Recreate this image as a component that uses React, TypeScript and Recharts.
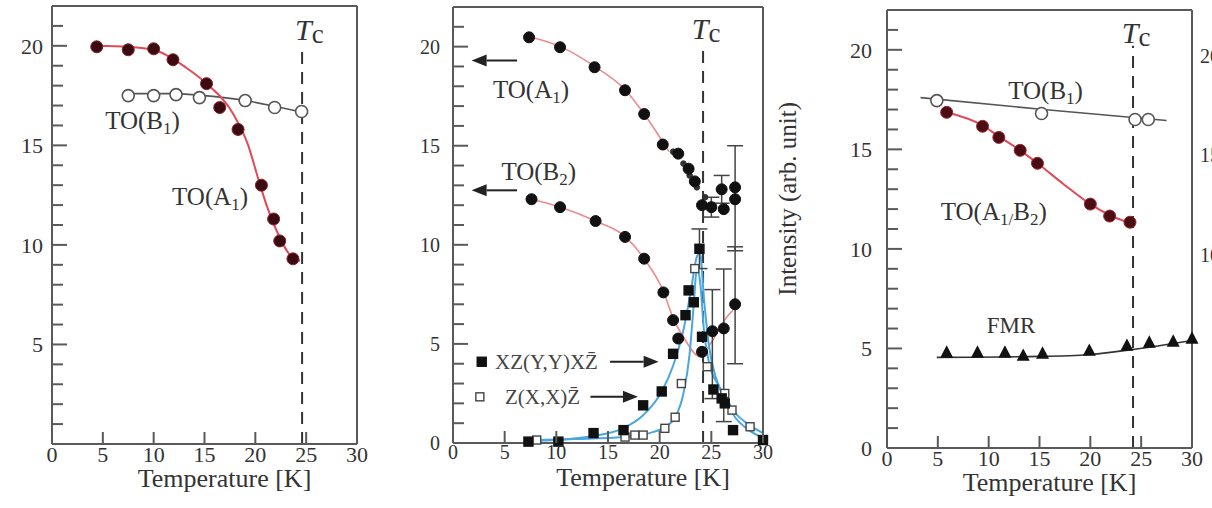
import React from 'react';
import {
  ComposedChart,
  Line,
  Scatter,
  XAxis,
  YAxis,
  ReferenceLine,
  ReferenceDot,
  ErrorBar,
} from 'recharts';

const SERIF = '"Liberation Serif", "Times New Roman", serif';
const INK = '#333';
const FRAME = '#5a5a5a';
const RED = '#e04a58';
const PINK = '#ec8a8e';
const BLUE = '#4aa7de';

// axis ticks shared by all three panels
const X_TICKS = [0, 5, 10, 15, 20, 25, 30];
const TOP_TICKS = [5, 10, 15, 20, 25];
const Y_TICKS = [0, 1, 2, 3, 4, 5, 6, 7, 8, 9, 10, 11, 12, 13, 14, 15, 16, 17, 18, 19, 20, 21];
const Y_LABELS_P1 = [5, 10, 15, 20];
const Y_LABELS = [0, 5, 10, 15, 20];
const Y_LABELS_RIGHT_P3 = [10, 15, 20];

// --- left panel: TO(A1) / TO(B1) frequencies ---
const p1A1 = [
  { x: 4.4, y: 19.95 }, { x: 7.5, y: 19.8 }, { x: 10.0, y: 19.85 }, { x: 11.9, y: 19.3 },
  { x: 15.2, y: 18.1 }, { x: 16.5, y: 16.9 }, { x: 18.3, y: 15.8 }, { x: 20.6, y: 13.0 },
  { x: 21.8, y: 11.3 }, { x: 22.4, y: 10.2 }, { x: 23.7, y: 9.3 },
];
const p1A1Fit = [
  { x: 4.4, y: 20.0 }, { x: 7.5, y: 19.95 }, { x: 10, y: 19.8 }, { x: 13.2, y: 18.9 },
  { x: 15.2, y: 18.1 }, { x: 17.8, y: 16.6 }, { x: 19.3, y: 15.0 }, { x: 20.3, y: 13.3 },
  { x: 21.1, y: 12.0 }, { x: 22.1, y: 10.7 }, { x: 23.4, y: 9.5 }, { x: 24.4, y: 9.2 },
];
const p1B1 = [
  { x: 7.5, y: 17.5 }, { x: 10.0, y: 17.5 }, { x: 12.2, y: 17.55 }, { x: 14.5, y: 17.4 },
  { x: 19.0, y: 17.25 }, { x: 21.9, y: 16.9 }, { x: 24.55, y: 16.7 },
];
const p1B1Fit = [
  { x: 7.5, y: 17.6 }, { x: 12, y: 17.6 }, { x: 15, y: 17.5 }, { x: 19, y: 17.25 },
  { x: 22, y: 16.95 }, { x: 25.2, y: 16.6 },
];
const P1_TC = 24.6;

// --- middle panel: frequencies and Raman intensities ---
const p2A1 = [
  { x: 7.36, y: 20.47 }, { x: 10.36, y: 19.97 }, { x: 13.7, y: 18.96 }, { x: 16.65, y: 17.8 },
  { x: 18.5, y: 16.6 }, { x: 20.3, y: 15.06 }, { x: 21.8, y: 14.6 }, { x: 22.8, y: 13.84 },
  { x: 23.4, y: 13.2 }, { x: 24.1, y: 12.0 }, { x: 26.2, y: 11.8 }, { x: 27.3, y: 12.9 },
];
const p2A1Err = [
  { x: 25.0, y: 11.9, e: 0.5 },
  { x: 26.0, y: 12.8, e: 0.7 },
  { x: 27.3, y: 12.3, e: [2.6, 2.7] },
];
const p2A1Small = [
  { x: 21.3, y: 14.7 }, { x: 22.3, y: 14.1 }, { x: 22.9, y: 13.5 }, { x: 23.6, y: 12.9 }, { x: 24.4, y: 12.4 },
];
const p2A1Fit = [
  { x: 7.4, y: 20.5 }, { x: 10.4, y: 20.0 }, { x: 13.7, y: 19.0 }, { x: 16.7, y: 17.8 },
  { x: 18.5, y: 16.6 }, { x: 20.9, y: 14.7 },
];
const p2B2 = [
  { x: 7.6, y: 12.3 }, { x: 10.36, y: 11.9 }, { x: 13.8, y: 11.2 }, { x: 16.65, y: 10.4 },
  { x: 18.5, y: 9.3 }, { x: 20.36, y: 7.6 }, { x: 21.3, y: 6.2 }, { x: 21.8, y: 5.27 },
  { x: 24.1, y: 4.6 },
];
const p2B2Err = [
  { x: 25.1, y: 5.64, e: [3.4, 2.1] },
  { x: 26.2, y: 5.78, e: [4.7, 3.0] },
  { x: 27.3, y: 7.0, e: [3.0, 2.9] },
];
const p2B2Fit = [
  { x: 7.6, y: 12.3 }, { x: 10.4, y: 11.9 }, { x: 13.8, y: 11.2 }, { x: 16.7, y: 10.4 },
  { x: 18.5, y: 9.3 }, { x: 20.4, y: 7.6 }, { x: 21.3, y: 6.3 }, { x: 22.3, y: 5.35 },
  { x: 23.9, y: 4.35 }, { x: 24.9, y: 5.0 }, { x: 26.5, y: 6.36 }, { x: 27.1, y: 6.7 },
];
const p2XZ = [
  { x: 7.3, y: 0.07 }, { x: 10.2, y: 0.07 }, { x: 13.6, y: 0.5 }, { x: 16.5, y: 0.65 },
  { x: 18.4, y: 1.9 }, { x: 20.2, y: 2.6 }, { x: 21.3, y: 4.5 }, { x: 22.5, y: 6.45 },
  { x: 22.8, y: 7.7 }, { x: 23.3, y: 7.1 }, { x: 24.1, y: 5.36 }, { x: 25.2, y: 2.7 },
  { x: 26.0, y: 2.25 }, { x: 26.3, y: 2.0 }, { x: 27.1, y: 0.65 }, { x: 30.0, y: 0.15 },
];
const p2XZErr = [{ x: 23.85, y: 9.8, e: 1.0 }];
const p2XZFit = [
  { x: 7.3, y: 0.1 }, { x: 10, y: 0.15 }, { x: 13.6, y: 0.35 }, { x: 16.5, y: 0.75 },
  { x: 18.4, y: 1.4 }, { x: 20.2, y: 2.6 }, { x: 21.3, y: 3.9 }, { x: 22.3, y: 5.7 },
  { x: 23.0, y: 7.6 }, { x: 23.6, y: 9.4 }, { x: 23.9, y: 9.6 }, { x: 24.3, y: 7.2 },
  { x: 24.8, y: 4.8 }, { x: 25.5, y: 3.2 }, { x: 26.3, y: 2.2 }, { x: 27.3, y: 1.3 },
  { x: 28.5, y: 0.7 }, { x: 30, y: 0.25 },
];
const p2ZXX = [
  { x: 8.1, y: 0.15 }, { x: 16.65, y: 0.3 }, { x: 17.6, y: 0.4 }, { x: 18.4, y: 0.4 },
  { x: 20.5, y: 0.74 }, { x: 21.5, y: 1.3 }, { x: 22.1, y: 3.0 }, { x: 23.4, y: 8.8 },
  { x: 24.6, y: 3.85 }, { x: 26.3, y: 2.5 }, { x: 27.0, y: 1.66 }, { x: 28.75, y: 0.82 },
];
const p2ZXXFit = [
  { x: 8.1, y: 0.15 }, { x: 12, y: 0.2 }, { x: 16.5, y: 0.3 }, { x: 19, y: 0.5 },
  { x: 20.5, y: 0.8 }, { x: 21.5, y: 1.3 }, { x: 22.3, y: 2.5 }, { x: 22.9, y: 4.5 },
  { x: 23.3, y: 7.0 }, { x: 23.6, y: 8.8 }, { x: 23.9, y: 8.2 }, { x: 24.3, y: 5.6 },
  { x: 24.8, y: 4.0 }, { x: 25.6, y: 3.0 }, { x: 26.4, y: 2.3 }, { x: 27.2, y: 1.6 },
  { x: 28.7, y: 0.9 }, { x: 30, y: 0.5 },
];
const P2_TC = 24.2;
const p2Arrows = [
  [{ x: 6.2, y: 19.3 }, { x: 1.8, y: 19.3 }],
  [{ x: 6.2, y: 12.75 }, { x: 1.8, y: 12.75 }],
  [{ x: 15.2, y: 4.1 }, { x: 19.9, y: 4.1 }],
  [{ x: 13.3, y: 2.33 }, { x: 17.9, y: 2.33 }],
];

// --- right panel: TO(B1), TO(A1/B2) and FMR ---
const p3B1 = [{ x: 4.9, y: 17.45 }, { x: 15.2, y: 16.8 }, { x: 24.4, y: 16.5 }, { x: 25.7, y: 16.5 }];
const p3B1Fit = [{ x: 3.3, y: 17.6 }, { x: 15.4, y: 17.0 }, { x: 27.5, y: 16.45 }];
const p3A = [
  { x: 5.87, y: 16.86 }, { x: 9.4, y: 16.16 }, { x: 11.0, y: 15.6 }, { x: 13.1, y: 14.95 },
  { x: 14.8, y: 14.3 }, { x: 20.0, y: 12.25 }, { x: 21.9, y: 11.65 }, { x: 23.9, y: 11.34 },
];
const p3AFit = [
  { x: 5.87, y: 16.86 }, { x: 9.4, y: 16.2 }, { x: 11.0, y: 15.65 }, { x: 13.1, y: 14.95 },
  { x: 14.8, y: 14.3 }, { x: 17.5, y: 13.2 }, { x: 20.0, y: 12.25 }, { x: 21.9, y: 11.7 },
  { x: 23.9, y: 11.3 },
];
const p3FMR = [
  { x: 5.87, y: 4.8 }, { x: 8.9, y: 4.8 }, { x: 11.6, y: 4.8 }, { x: 13.4, y: 4.64 },
  { x: 15.3, y: 4.75 }, { x: 19.9, y: 4.89 }, { x: 23.6, y: 5.14 }, { x: 25.8, y: 5.3 },
  { x: 28.15, y: 5.35 }, { x: 30, y: 5.5 },
];
const p3FMRFit = [{ x: 4.9, y: 4.55 }, { x: 15, y: 4.6 }, { x: 20, y: 4.7 }, { x: 24.2, y: 4.95 }, { x: 30, y: 5.4 }];
const P3_TC = 24.2;

type Part = { t: string; s?: number; d?: number; italic?: boolean };
const SUB = { s: 0.68, d: 0.2 };
const TC: Part[] = [{ t: 'T', italic: true }, { t: 'c', s: 0.9, d: 0.12 }];
const LBL_A1: Part[] = [{ t: 'TO(A' }, { t: '1', ...SUB }, { t: ')' }];
const LBL_B1: Part[] = [{ t: 'TO(B' }, { t: '1', ...SUB }, { t: ')' }];
const LBL_B2: Part[] = [{ t: 'TO(B' }, { t: '2', ...SUB }, { t: ')' }];
const LBL_A1B2: Part[] = [{ t: 'TO(A' }, { t: '1/', ...SUB }, { t: 'B' }, { t: '2', ...SUB }, { t: ')' }];
const LBL_FMR: Part[] = [{ t: 'FMR' }];
const LBL_XZ: Part[] = [{ t: 'XZ(Y,Y)XZ\u0304' }];
const LBL_ZX: Part[] = [{ t: 'Z(X,X)Z\u0304' }];

// text with subscript runs, placed at a data point
const rich = (parts: Part[], size: number, anchor: 'start' | 'middle' | 'end' = 'middle', fill = INK) =>
  (p: any) => {
    let shift = 0;
    return (
      <text x={p.cx} y={p.cy} fontSize={size} fontFamily={SERIF} fill={fill} textAnchor={anchor}>
        {parts.map((s, i) => {
          const want = (s.d ?? 0) * size;
          const dy = want - shift;
          shift = want;
          return (
            <tspan key={i} dy={dy} fontSize={(s.s ?? 1) * size} fontStyle={s.italic ? 'italic' : undefined}>
              {s.t}
            </tspan>
          );
        })}
      </text>
    );
  };

// right-hand scale labels of the last panel, running off the edge
const edgeLabel = (v: number) => (p: any) => (
  <text x={p.cx + 8} y={p.cy + 6} dy="0.35em" fontSize={20} fontFamily={SERIF} fill={INK}>
    {v}
  </text>
);

const dot = (r: number, fill: string, stroke = fill) => (p: any) => (
  <circle cx={p.cx} cy={p.cy} r={r} fill={fill} stroke={stroke} strokeWidth={1} />
);
const ring = (r: number) => (p: any) => (
  <circle cx={p.cx} cy={p.cy} r={r} fill="#fff" stroke="#555" strokeWidth={1.6} />
);
const square = (s: number, filled: boolean) => (p: any) => (
  <rect x={p.cx - s / 2} y={p.cy - s / 2} width={s} height={s}
    fill={filled ? '#111' : '#fff'} stroke={filled ? '#111' : '#444'} strokeWidth={1.4} />
);
const triangle = (s: number) => (p: any) => (
  <polygon
    points={`${p.cx},${p.cy - s * 0.55} ${p.cx - s / 2},${p.cy + s * 0.4} ${p.cx + s / 2},${p.cy + s * 0.4}`}
    fill="#111"
  />
);

const arrow = (p: any) => {
  const { x1, y1, x2, y2 } = p;
  const a = Math.atan2(y2 - y1, x2 - x1);
  const bx = x2 - 15 * Math.cos(a);
  const by = y2 - 15 * Math.sin(a);
  const nx = -Math.sin(a) * 6;
  const ny = Math.cos(a) * 6;
  return (
    <g>
      <line x1={x1} y1={y1} x2={bx} y2={by} stroke="#222" strokeWidth={2} />
      <polygon points={`${x2},${y2} ${bx + nx},${by + ny} ${bx - nx},${by - ny}`} fill="#222" />
    </g>
  );
};

const bottomTick = (size: number) => (p: any) => (
  <g>
    <line x1={p.x} y1={p.y} x2={p.x} y2={p.y - 12} stroke={FRAME} strokeWidth={2} />
    <text x={p.x} y={p.y + 2} dy="0.71em" textAnchor="middle" fontSize={size} fontFamily={SERIF} fill={INK}>
      {p.payload.value}
    </text>
  </g>
);
const topTick = (p: any) => (
  <line x1={p.x} y1={p.y} x2={p.x} y2={p.y + 12} stroke={FRAME} strokeWidth={2} />
);
const leftTick = (labels: number[], size: number, gap: number) => (p: any) => {
  const v = p.payload.value;
  const len = v % 5 === 0 ? 15 : 11;
  return (
    <g>
      <line x1={p.x} y1={p.y} x2={p.x + len} y2={p.y} stroke={FRAME} strokeWidth={2} />
      {labels.includes(v) && (
        <text x={p.x - gap} y={p.y} dy="0.35em" textAnchor="end" fontSize={size} fontFamily={SERIF} fill={INK}>
          {v}
        </text>
      )}
    </g>
  );
};
const rightTick = (p: any) => {
  const len = p.payload.value % 5 === 0 ? 14 : 11;
  return <line x1={p.x} y1={p.y} x2={p.x - len} y2={p.y} stroke={FRAME} strokeWidth={2} />;
};

const axisLine = { stroke: FRAME, strokeWidth: 2 };

const xTitle = (dx: number) => (p: any) => {
  const vb = p.viewBox ?? p;
  return (
    <text x={vb.x + vb.width / 2 + dx} y={vb.y + vb.height + 24} dy="0.71em" textAnchor="middle"
      fontSize={26} fontFamily={SERIF} fill={INK}>
      Temperature [K]
    </text>
  );
};

const intensityTitle = (p: any) => {
  const vb = p.viewBox ?? p;
  const cx = vb.x + 24;
  const cy = vb.y + vb.height * 0.44;
  return (
    <text x={cx} y={cy} transform={`rotate(-90 ${cx} ${cy})`} textAnchor="middle" dy="0.35em"
      fontSize={25} fontFamily={SERIF} fill={INK}>
      Intensity (arb. unit)
    </text>
  );
};

// the four sides of a panel; every axis is 1px thick so the margins carry the layout
const frameAxes = (tickSize: number, yLabels: number[], yGap: number, titleDx: number, rightTitle?: boolean) => (
  <>
    <XAxis dataKey="x" type="number" domain={[0, 30]} ticks={X_TICKS} interval={0} height={1}
      tickSize={0} tickMargin={0} tickLine={false} axisLine={axisLine} tick={bottomTick(tickSize)}
      label={xTitle(titleDx)} />
    <XAxis xAxisId="top" orientation="top" type="number" domain={[0, 30]} ticks={TOP_TICKS} interval={0}
      height={1} tickSize={0} tickMargin={0} tickLine={false} axisLine={axisLine} tick={topTick} />
    <YAxis dataKey="y" type="number" domain={[0, 22]} ticks={Y_TICKS} interval={0} width={1}
      tickSize={0} tickMargin={0} tickLine={false} axisLine={axisLine} tick={leftTick(yLabels, tickSize, yGap)} />
    <YAxis yAxisId="right" orientation="right" type="number" domain={[0, 22]} ticks={Y_TICKS} interval={0}
      width={1} tickSize={0} tickMargin={0} tickLine={false} axisLine={axisLine} tick={rightTick}
      label={rightTitle ? intensityTitle : undefined} />
  </>
);

const tcLine = (x: number, top: number) => (
  <ReferenceLine segment={[{ x, y: 0 }, { x, y: top }]} stroke="#333" strokeWidth={2} strokeDasharray="12 8" />
);

const LeftPanel = () => (
  <ComposedChart width={400} height={508} margin={{ top: 5, right: 42, bottom: 63, left: 51 }}>
    {frameAxes(22, Y_LABELS_P1, 9, 20)}
    {tcLine(P1_TC, 19.9)}
    <Line data={p1B1Fit} dataKey="y" type="monotone" stroke="#555" strokeWidth={1.6} dot={false} activeDot={false} isAnimationActive={false} />
    <Line data={p1A1Fit} dataKey="y" type="monotone" stroke={RED} strokeWidth={2} dot={false} activeDot={false} isAnimationActive={false} />
    <Scatter data={p1B1} shape={ring(6)} isAnimationActive={false} />
    <Scatter data={p1A1} shape={dot(6, '#3a0b10', '#8a1f28')} isAnimationActive={false} />
    <ReferenceDot x={8.9} y={15.8} shape={rich(LBL_B1, 25)} />
    <ReferenceDot x={15.55} y={12.0} shape={rich(LBL_A1, 25)} />
    <ReferenceDot x={23.9} y={20.3} shape={rich(TC, 30, 'start')} />
  </ComposedChart>
);

const MiddlePanel = () => (
  <ComposedChart width={420} height={508} margin={{ top: 6, right: 46, bottom: 64, left: 62 }}>
    {frameAxes(20, Y_LABELS, 13, 35, true)}
    {tcLine(P2_TC, 20.15)}
    <Line data={p2A1Fit} dataKey="y" type="monotone" stroke={PINK} strokeWidth={1.6} dot={false} activeDot={false} isAnimationActive={false} />
    <Line data={p2B2Fit} dataKey="y" type="monotone" stroke={PINK} strokeWidth={1.6} dot={false} activeDot={false} isAnimationActive={false} />
    <Line data={p2XZFit} dataKey="y" type="monotone" stroke={BLUE} strokeWidth={2} dot={false} activeDot={false} isAnimationActive={false} />
    <Line data={p2ZXXFit} dataKey="y" type="monotone" stroke={BLUE} strokeWidth={2} dot={false} activeDot={false} isAnimationActive={false} />
    <Scatter data={p2ZXX} shape={square(8, false)} isAnimationActive={false} />
    <Scatter data={p2XZ} shape={square(9, true)} isAnimationActive={false} />
    <Scatter data={p2XZErr} shape={square(9, true)} isAnimationActive={false}>
      <ErrorBar dataKey="e" direction="y" width={8} stroke="#444" strokeWidth={1.5} />
    </Scatter>
    <Scatter data={p2A1Small} shape={dot(2.8, '#333')} isAnimationActive={false} />
    <Scatter data={p2A1} shape={dot(5.5, '#111')} isAnimationActive={false} />
    <Scatter data={p2A1Err} shape={dot(5.5, '#111')} isAnimationActive={false}>
      <ErrorBar dataKey="e" direction="y" width={8} stroke="#444" strokeWidth={1.5} />
    </Scatter>
    <Scatter data={p2B2} shape={dot(5.5, '#111')} isAnimationActive={false} />
    <Scatter data={p2B2Err} shape={dot(5.5, '#111')} isAnimationActive={false}>
      <ErrorBar dataKey="e" direction="y" width={8} stroke="#444" strokeWidth={1.5} />
    </Scatter>
    {p2Arrows.map((seg, i) => (
      <ReferenceLine key={i} segment={seg} shape={arrow} />
    ))}
    <ReferenceDot x={7.55} y={17.4} shape={rich(LBL_A1, 25)} />
    <ReferenceDot x={8.3} y={13.25} shape={rich(LBL_B2, 25)} />
    <ReferenceDot x={2.78} y={4.1} shape={square(9, true)} />
    <ReferenceDot x={2.6} y={2.33} shape={square(8, false)} />
    <ReferenceDot x={4.07} y={3.73} shape={rich(LBL_XZ, 21, 'start', '#444')} />
    <ReferenceDot x={5.03} y={1.96} shape={rich(LBL_ZX, 21, 'start', '#444')} />
    <ReferenceDot x={23.1} y={20.4} shape={rich(TC, 30, 'start')} />
  </ComposedChart>
);

const RightPanel = () => (
  <ComposedChart width={402} height={508} margin={{ top: 9, right: 19, bottom: 59, left: 76 }}>
    {frameAxes(22, Y_LABELS, 15, 10)}
    {tcLine(P3_TC, 20.2)}
    <Line data={p3B1Fit} dataKey="y" type="monotone" stroke="#555" strokeWidth={1.6} dot={false} activeDot={false} isAnimationActive={false} />
    <Line data={p3AFit} dataKey="y" type="monotone" stroke={RED} strokeWidth={2} dot={false} activeDot={false} isAnimationActive={false} />
    <Line data={p3FMRFit} dataKey="y" type="monotone" stroke="#333" strokeWidth={1.6} dot={false} activeDot={false} isAnimationActive={false} />
    <Scatter data={p3B1} shape={ring(6)} isAnimationActive={false} />
    <Scatter data={p3A} shape={dot(6, '#4a0d14', '#a0242e')} isAnimationActive={false} />
    <Scatter data={p3FMR} shape={triangle(13)} isAnimationActive={false} />
    <ReferenceDot x={15.6} y={17.55} shape={rich(LBL_B1, 25)} />
    <ReferenceDot x={10.5} y={11.47} shape={rich(LBL_A1B2, 25)} />
    <ReferenceDot x={12.2} y={5.79} shape={rich(LBL_FMR, 23)} />
    <ReferenceDot x={23.1} y={20.35} shape={rich(TC, 30, 'start')} />
    {Y_LABELS_RIGHT_P3.map((v) => (
      <ReferenceDot key={v} x={30} y={v} shape={edgeLabel(v)} />
    ))}
  </ComposedChart>
);

export default function App() {
  return (
    <div style={{ position: 'absolute', left: 0, top: 0, width: 1212, height: 508, overflow: 'hidden', background: '#fff' }}>
      <div style={{ position: 'absolute', left: 0, top: 0 }}>
        <LeftPanel />
      </div>
      <div style={{ position: 'absolute', left: 390, top: 0 }}>
        <MiddlePanel />
      </div>
      <div style={{ position: 'absolute', left: 810, top: 0 }}>
        <RightPanel />
      </div>
    </div>
  );
}
